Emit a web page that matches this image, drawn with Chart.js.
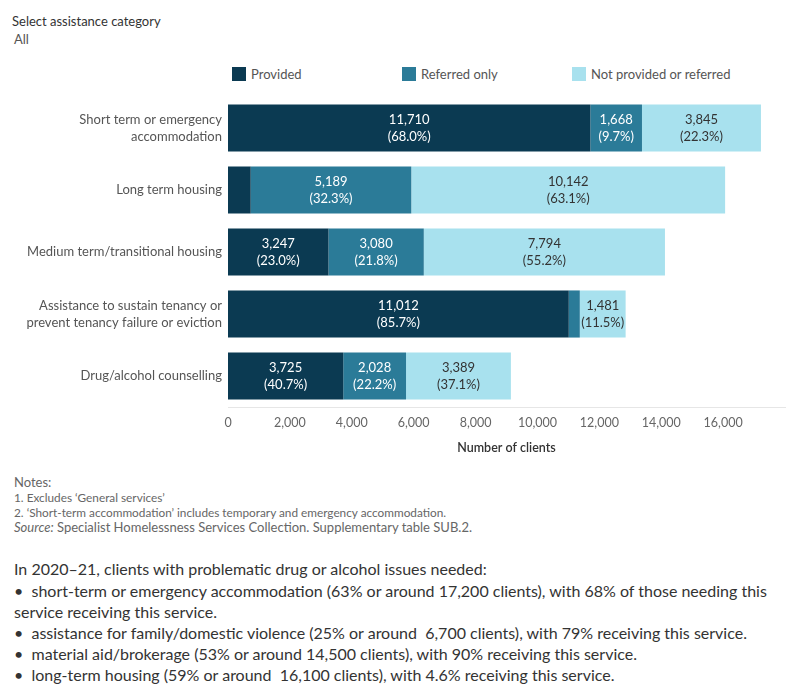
<!DOCTYPE html>
<html>
<head>
<meta charset="utf-8">
<script src="https://cdn.jsdelivr.net/npm/chart.js@4.4.0/dist/chart.umd.min.js"></script>
<style>
  body { margin: 0; background: #fff; font-family: Lato, "Noto Sans", sans-serif; }
  #page { position: relative; width: 800px; height: 700px; overflow: hidden; }
  .abs { position: absolute; white-space: nowrap; }
  .filter-title { left: 12px; top: 13px; font-size: 13px; color: #333; }
  .filter-value { left: 14px; top: 31px; font-size: 13px; color: #555; }
  .leg { top: 66px; font-size: 13px; color: #555; }
  .sw { display: inline-block; width: 14px; height: 14px; vertical-align: -2px; margin-right: 5px; }
  #wrap { position: absolute; left: 0; top: 90px; width: 800px; height: 365px; }
  .notes { left: 14px; font-size: 11.8px; color: #666; }
  .body { left: 14px; font-size: 16px; color: #333; }
</style>
</head>
<body>
<div id="page">
  <div class="abs filter-title">Select assistance category</div>
  <div class="abs filter-value">All</div>

  <div class="abs leg" style="left:232px"><span class="sw" style="background:#0b3a52"></span>Provided</div>
  <div class="abs leg" style="left:402px"><span class="sw" style="background:#2b7b98"></span>Referred only</div>
  <div class="abs leg" style="left:572px"><span class="sw" style="background:#a8e1ee"></span>Not provided or referred</div>

  <div id="wrap"><canvas id="chartCanvas"></canvas></div>

  <div class="abs notes" style="top:474px;font-size:13px">Notes:</div>
  <div class="abs notes" style="top:490px">1. Excludes ‘General services’</div>
  <div class="abs notes" style="top:505px">2. ‘Short-term accommodation’ includes temporary and emergency accommodation.</div>
  <div class="abs notes" style="top:519px;font-size:13px"><i>Source:</i> Specialist Homelessness Services Collection. Supplementary table SUB.2.</div>

  <div class="abs body" style="top:559px">In 2020–21, clients with problematic drug or alcohol issues needed:</div>
  <div class="abs body" style="top:581px">•&nbsp; short-term or emergency accommodation (63% or around 17,200 clients), with 68% of those needing this</div>
  <div class="abs body" style="top:602px">service receiving this service.</div>
  <div class="abs body" style="top:623px">•&nbsp; assistance for family/domestic violence (25% or around&nbsp; 6,700 clients), with 79% receiving this service.</div>
  <div class="abs body" style="top:644px">•&nbsp; material aid/brokerage (53% or around 14,500 clients), with 90% receiving this service.</div>
  <div class="abs body" style="top:665px">•&nbsp; long-term housing (59% or around&nbsp; 16,100 clients), with 4.6% receiving this service.</div>
</div>

<script>
// categories and series
var categories = [
  ['Short term or emergency', 'accommodation'],
  'Long term housing',
  'Medium term/transitional housing',
  ['Assistance to sustain tenancy or', 'prevent tenancy failure or eviction'],
  'Drug/alcohol counselling'
];
var provided = [11710, 734, 3247, 11012, 3725];
var referredOnly = [1668, 5189, 3080, 357, 2028];
var notProvided = [3845, 10142, 7794, 1481, 3389];
var xTicks = [0, 2000, 4000, 6000, 8000, 10000, 12000, 14000, 16000];

var colors = ['#0b3a52', '#2b7b98', '#a8e1ee'];
var labelColors = ['#ffffff', '#ffffff', '#333333'];

var totals = provided.map(function (v, i) { return v + referredOnly[i] + notProvided[i]; });

// draws "value (pct%)" in the middle of each segment
var segLabels = {
  id: 'segLabels',
  afterDatasetsDraw: function (chart) {
    var ctx = chart.ctx;
    ctx.save();
    ctx.font = '13px Lato, "Noto Sans", sans-serif';
    ctx.textAlign = 'center';
    ctx.textBaseline = 'middle';
    chart.data.datasets.forEach(function (ds, di) {
      var meta = chart.getDatasetMeta(di);
      meta.data.forEach(function (bar, i) {
        var w = Math.abs(bar.x - bar.base);
        if (w < 30) return;
        var cx = (bar.x + bar.base) / 2;
        var v = ds.data[i];
        var pct = (v / totals[i] * 100).toFixed(1);
        ctx.fillStyle = labelColors[di];
        ctx.fillText(v.toLocaleString('en-US'), cx, bar.y - 8);
        ctx.fillText('(' + pct + '%)', cx, bar.y + 9);
      });
    });
    ctx.restore();
  }
};

var ctx = document.getElementById('chartCanvas').getContext('2d');
var chart = new Chart(ctx, {
  type: 'bar',
  data: {
    labels: categories,
    datasets: [
      { label: 'Provided', data: provided, backgroundColor: colors[0] },
      { label: 'Referred only', data: referredOnly, backgroundColor: colors[1] },
      { label: 'Not provided or referred', data: notProvided, backgroundColor: colors[2] }
    ]
  },
  options: {
    indexAxis: 'y',
    responsive: true,
    maintainAspectRatio: false,
    animation: false,
    layout: { padding: { top: 7, right: 15, left: 0, bottom: 0 } },
    datasets: { bar: { categoryPercentage: 1, barPercentage: 0.76 } },
    plugins: { legend: { display: false }, tooltip: { enabled: false } },
    scales: {
      x: {
        stacked: true,
        min: 0,
        max: 18000,
        afterBuildTicks: function (scale) {
          scale.ticks = xTicks.map(function (v) { return { value: v }; });
        },
        afterFit: function (scale) {
          scale.height = 48;
          scale.paddingLeft = 0;
          scale.paddingRight = 0;
        },
        grid: { display: false, drawTicks: false },
        border: { display: true, color: '#e6e6e6' },
        ticks: {
          padding: 8,
          color: '#666',
          font: { family: 'Lato', size: 12.5 },
          maxRotation: 0,
          callback: function (v) { return v.toLocaleString('en-US'); }
        },
        title: {
          display: true,
          text: 'Number of clients',
          color: '#333',
          font: { family: 'Lato', size: 12.5, weight: '600' },
          padding: { top: 9, bottom: 0 }
        }
      },
      y: {
        stacked: true,
        afterFit: function (scale) {
          scale.width = 228;
          scale.paddingTop = 0;
          scale.paddingBottom = 0;
        },
        grid: { display: false, drawTicks: false },
        border: { display: false },
        ticks: {
          padding: 6,
          color: '#555',
          font: { family: 'Lato', size: 13, lineHeight: 1.3 }
        }
      }
    }
  },
  plugins: [segLabels]
});
</script>
</body>
</html>
